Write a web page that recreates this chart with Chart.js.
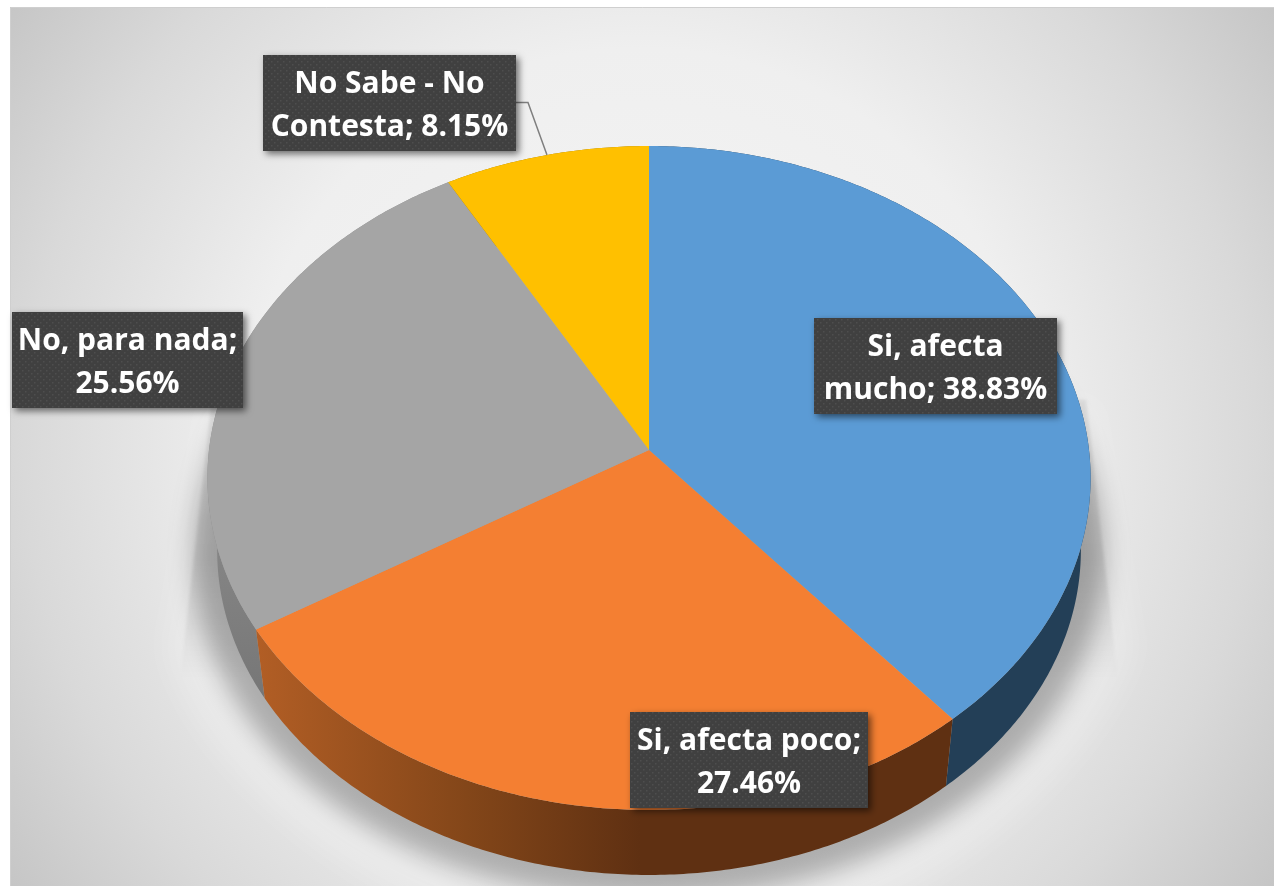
<!DOCTYPE html>
<html><head><meta charset="utf-8">
<style>html,body{margin:0;padding:0;background:#fff;overflow:hidden}canvas{display:block}</style>
<script src="https://cdn.jsdelivr.net/npm/chart.js@4"></script>
</head><body><canvas id="c" width="1274" height="886"></canvas>
<script>
const categories = ["Si, afecta mucho","Si, afecta poco","No, para nada","No Sabe - No Contesta"];
const values = [38.83,27.46,25.56,8.15];
const labelLines = [["Si, afecta","mucho; 38.83%"],["Si, afecta poco;","27.46%"],["No, para nada;","25.56%"],["No Sabe - No","Contesta; 8.15%"]];
const colors = ["#5B9BD5","#F47F32","#A5A5A5","#FFC000"];

// view of the tilted disc
const CX=649,CY=450,A=329.6,B=440,K=-0.0843,S=0.978,YV=3764;
const top3=a=>{const u=Math.cos(a),v=Math.sin(a),d=1+K*v;return [CX+B*u/d,CY+A*v/d];};
const bot3=a=>{const p=top3(a);return [CX+S*(p[0]-CX),YV-S*(YV-p[1])];};
const STEPS=a=>Math.max(2,Math.ceil(Math.abs(a)/0.01));

Chart.ArcElement.prototype.draw=function(ctx){
  const {startAngle:s,endAngle:e,options:o}=this;
  const n=STEPS(e-s);
  ctx.save();ctx.beginPath();ctx.moveTo(CX,CY);
  for(let i=0;i<=n;i++){const p=top3(s+(e-s)*i/n);ctx.lineTo(p[0],p[1]);}
  ctx.closePath();ctx.fillStyle=o.backgroundColor;ctx.fill();ctx.restore();
};

function wall(ctx,s,e,fill){
  const n=STEPS(e-s);
  ctx.beginPath();
  for(let i=0;i<=n;i++){const p=top3(s+(e-s)*i/n);i?ctx.lineTo(p[0],p[1]):ctx.moveTo(p[0],p[1]);}
  for(let i=n;i>=0;i--){const p=bot3(s+(e-s)*i/n);ctx.lineTo(p[0],p[1]);}
  ctx.closePath();ctx.fillStyle=fill;ctx.fill();
}

const scene={id:'scene',
  beforeDraw(ch){
    const c=ch.ctx;
    c.save();
    c.fillStyle='#fff';c.fillRect(0,0,1274,886);
    c.beginPath();c.rect(10,7,1264,879);c.clip();
    const g=c.createRadialGradient(640,443,0,640,443,790);
    g.addColorStop(0,'#f6f6f6');g.addColorStop(.5,'#efefef');g.addColorStop(.78,'#d9d9d9');g.addColorStop(1,'#c3c3c3');
    c.fillStyle=g;c.fillRect(0,0,1274,886);
    // soft light halo
    c.filter='blur(14px)';
    c.fillStyle='rgba(255,255,255,.2)';
    c.beginPath();c.moveTo(1095,400);c.lineTo(1135,650);c.bezierCurveTo(1090,790,880,960,649,960);c.bezierCurveTo(420,960,200,790,165,650);c.lineTo(205,400);c.closePath();c.fill();
    // faint wedge of the cast shadow, fading downward
    c.filter='blur(1.5px)';
    const w=c.createLinearGradient(0,410,0,680);
    w.addColorStop(0,'rgba(0,0,0,.07)');w.addColorStop(.55,'rgba(0,0,0,.09)');w.addColorStop(1,'rgba(0,0,0,0)');
    c.fillStyle=w;
    c.beginPath();c.moveTo(1086,400);c.lineTo(1118,680);c.lineTo(180,680);c.lineTo(212,400);c.closePath();c.fill();
    // dark cast shadow hugging the lower rim
    c.filter='blur(12px)';
    c.fillStyle='rgba(0,0,0,.27)';
    c.beginPath();
    for(let i=0;i<=628;i++){const p=bot3(i/100);const x=CX+1.055*(p[0]-CX),y=500+1.065*(p[1]-500);i?c.lineTo(x,y):c.moveTo(x,y);}
    c.closePath();c.fill();
    c.filter='none';
    c.restore();
    c.strokeStyle='#cfcfcf';c.lineWidth=1;c.beginPath();c.moveTo(10.5,886);c.lineTo(10.5,7.5);c.lineTo(1274,7.5);c.stroke();
  },
  beforeDatasetsDraw(ch){
    const c=ch.ctx,arcs=ch.getDatasetMeta(0).data;
    c.save();
    const og=c.createLinearGradient(256,0,640,0);
    og.addColorStop(0,'#B25E25');og.addColorStop(.55,'#834619');og.addColorStop(1,'#5F3012');
    const gg=c.createLinearGradient(0,480,0,700);
    gg.addColorStop(0,'#8c8c8c');gg.addColorStop(1,'#767676');
    const fills=['#233F57',og,gg,'#997300'];
    [3,2,0,1].forEach(i=>wall(c,arcs[i].startAngle,arcs[i].endAngle,fills[i]));
    c.restore();
  },
  afterDatasetsDraw(ch){
    const c=ch.ctx;
    // leader line
    c.save();c.strokeStyle='#7f7f7f';c.lineWidth=1.5;c.beginPath();c.moveTo(516,102.5);c.lineTo(528,102.5);c.lineTo(547,155);c.stroke();c.restore();
    // dotted fill for boxes
    const t=document.createElement('canvas');t.width=t.height=6;const q=t.getContext('2d');
    q.fillStyle='#404040';q.fillRect(0,0,6,6);q.fillStyle='#4e4e4e';q.fillRect(1,1,1.5,1.5);q.fillRect(4,4,1.5,1.5);
    const pat=c.createPattern(t,'repeat');
    const boxes=[[814,318,243,96],[630,712,238,96],[12,312,231,96],[263,55,253,96]];
    boxes.forEach((b,i)=>{
      c.save();
      c.shadowColor='rgba(0,0,0,.55)';c.shadowBlur=7;c.shadowOffsetX=3;c.shadowOffsetY=3;
      c.fillStyle=pat;c.fillRect(b[0],b[1],b[2],b[3]);
      c.restore();
      c.save();
      c.fillStyle='#fff';c.font='700 30px "Open Sans"';c.textAlign='center';c.textBaseline='alphabetic';
      labelLines[i].forEach((s,j)=>c.fillText(s,b[0]+b[2]/2,b[1]+38+j*43));
      c.restore();
    });
  }
};

new Chart(document.getElementById('c'),{
  type:'pie',
  data:{labels:categories,datasets:[{data:values,backgroundColor:colors,borderWidth:0}]},
  options:{responsive:false,animation:false,devicePixelRatio:1,
    plugins:{legend:{display:false},tooltip:{enabled:false}},events:[]},
  plugins:[scene]
});
</script></body></html>
